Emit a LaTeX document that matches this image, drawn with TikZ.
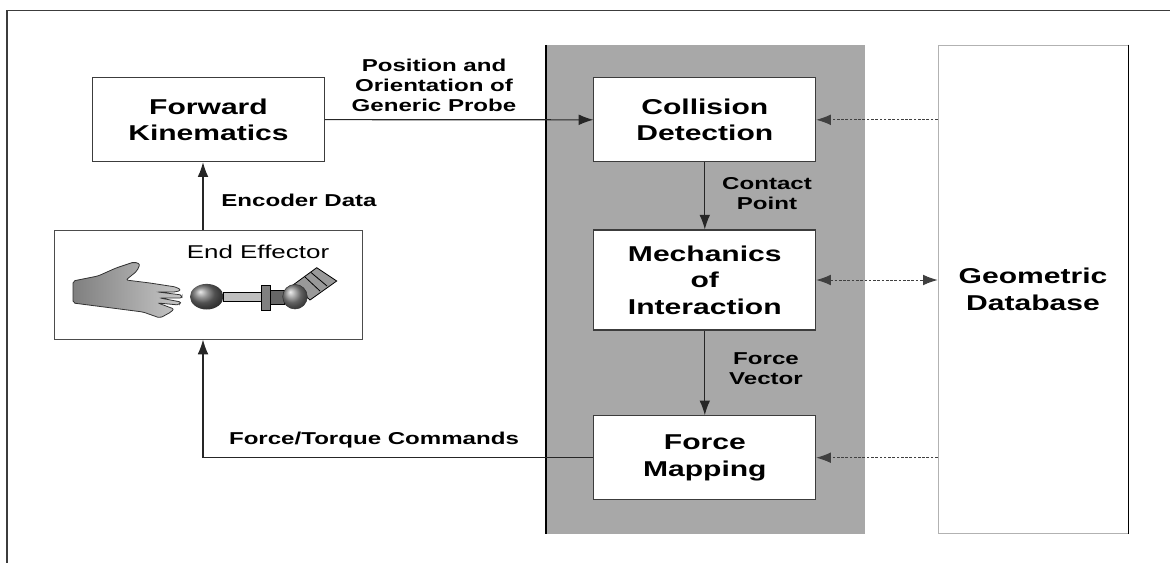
\documentclass[tikz,border=0pt]{standalone}
\usepackage{fontspec}
\setmainfont[FakeStretch=1.4]{Liberation Sans}
\usetikzlibrary{arrows.meta}
\definecolor{panelgray}{RGB}{168,168,168}
\definecolor{linegray}{RGB}{60,60,60}

\begin{document}
\begin{tikzpicture}[x=0.75pt, y=-0.75pt,
    >={Latex[length=11pt,width=8pt]},
    B/.style={draw=linegray, line width=0.8pt, fill=white, inner sep=0pt, align=center,
        font=\fontsize{16.1}{20}\selectfont\bfseries},
    L/.style={inner sep=0pt, align=center, font=\fontsize{12.9}{15}\selectfont\bfseries},
    A/.style={->, line width=0.8pt, draw=black!85},
    D/.style={line width=0.7pt, dash pattern=on 2pt off 1.2pt, draw=black!75}
  ]
  \useasboundingbox (0,0) rectangle (1170,563);
  % outer frame
  \draw[line width=0.9pt, linegray] (7,563) -- (7,10.7) -- (1170,10.7);
  % grey panel
  \fill[panelgray] (546,45) rectangle (865,533.7);
  \draw[line width=1pt] (546,45) -- (546,533.7);

  \node[B, minimum width=174pt, minimum height=63pt] (fk) at (208.5,119.7) {Forward\\Kinematics};
  \node[B, draw=black!70, minimum width=231pt, minimum height=81.4pt] (ee) at (208.8,284.8) {};
  \node[font=\fontsize{13.9}{16}\selectfont, inner sep=0pt] (eetxt) at (258,252) {End Effector};

  \node[B, minimum width=166.3pt, minimum height=63.2pt] (cd) at (704.8,119.8) {Collision\\Detection};
  \node[B, minimum width=166.3pt, minimum height=75pt] (mi) at (704.8,280) {Mechanics\\of\\Interaction};
  \node[B, minimum width=166.3pt, minimum height=63pt] (fm) at (704.8,457.7) {Force\\Mapping};

  \node[B, draw=gray!60, line width=0.5pt, minimum width=142.5pt, minimum height=366.5pt] (gd) at (1033,289.4) {Geometric\\Database};
  \draw[line width=1pt] (gd.north east) -- (gd.south east);

  % hand
  \shade[left color=black!50, right color=black!22, draw=black!80, line width=0.6pt, rounded corners=1.5pt]
    (73,281) -- (98,276) -- (116,268) -- (134,262) -- (140,264) -- (137,271) -- (126,280)
    -- (150,283) -- (176,287) -- (181,290) -- (176,292) -- (158,292) -- (182,295) -- (182,298)
    -- (160,298) -- (181,302) -- (179,305) -- (158,303) -- (174,309) -- (171,312) -- (160,318)
    -- (143,312) -- (73,303) -- cycle;
  % probe and arm
  \shade[ball color=black!55] (206.7,296.7) ellipse [x radius=16.7, y radius=12.8];
  \draw[fill=black!25, line width=0.6pt] (223.3,292.3) rectangle (263.3,301);
  \draw[fill=black!50, line width=0.6pt] (261.7,285.7) rectangle (270,310);
  \draw[fill=black!60, line width=0.6pt] (270,290) rectangle (284,304.3);
  \draw[fill=black!40, line width=0.6pt] (293,285) -- (316.7,267.7) -- (336.7,281) -- (310,300) -- cycle;
  \draw[line width=0.6pt] (305,277) -- (320,291) (311,272.5) -- (327,286);
  \shade[ball color=black!45, draw=black!80] (295,296.7) circle [radius=12.3];

  % connectors
  \coordinate (busx) at (203,0);
  \draw[A] (fk.east) -- (cd.west);
  \draw[A] (ee.north -| busx) -- (fk.south -| busx);
  \draw[A] (fm.west) -| (ee.south -| busx);
  \draw[A] (cd) -- (mi);
  \draw[A] (mi) -- (fm);
  \draw[D, ->] (gd.west |- cd.east) -- (cd.east);
  \draw[D, <->] (mi.east) -- (gd.west |- mi.east);
  \draw[D, ->] (gd.west |- fm.east) -- (fm.east);

  \node[L] (lpos) at (434,85) {Position and\\Orientation of\\Generic Probe};
  \node[L] (lenc) at (299,200) {Encoder Data};
  \node[L] (lcon) at (767,194) {Contact\\Point};
  \node[L] (lvec) at (766,369) {Force\\Vector};
  \node[L] (lcmd) at (374,440) {Force/Torque Commands};
\end{tikzpicture}
\end{document}
